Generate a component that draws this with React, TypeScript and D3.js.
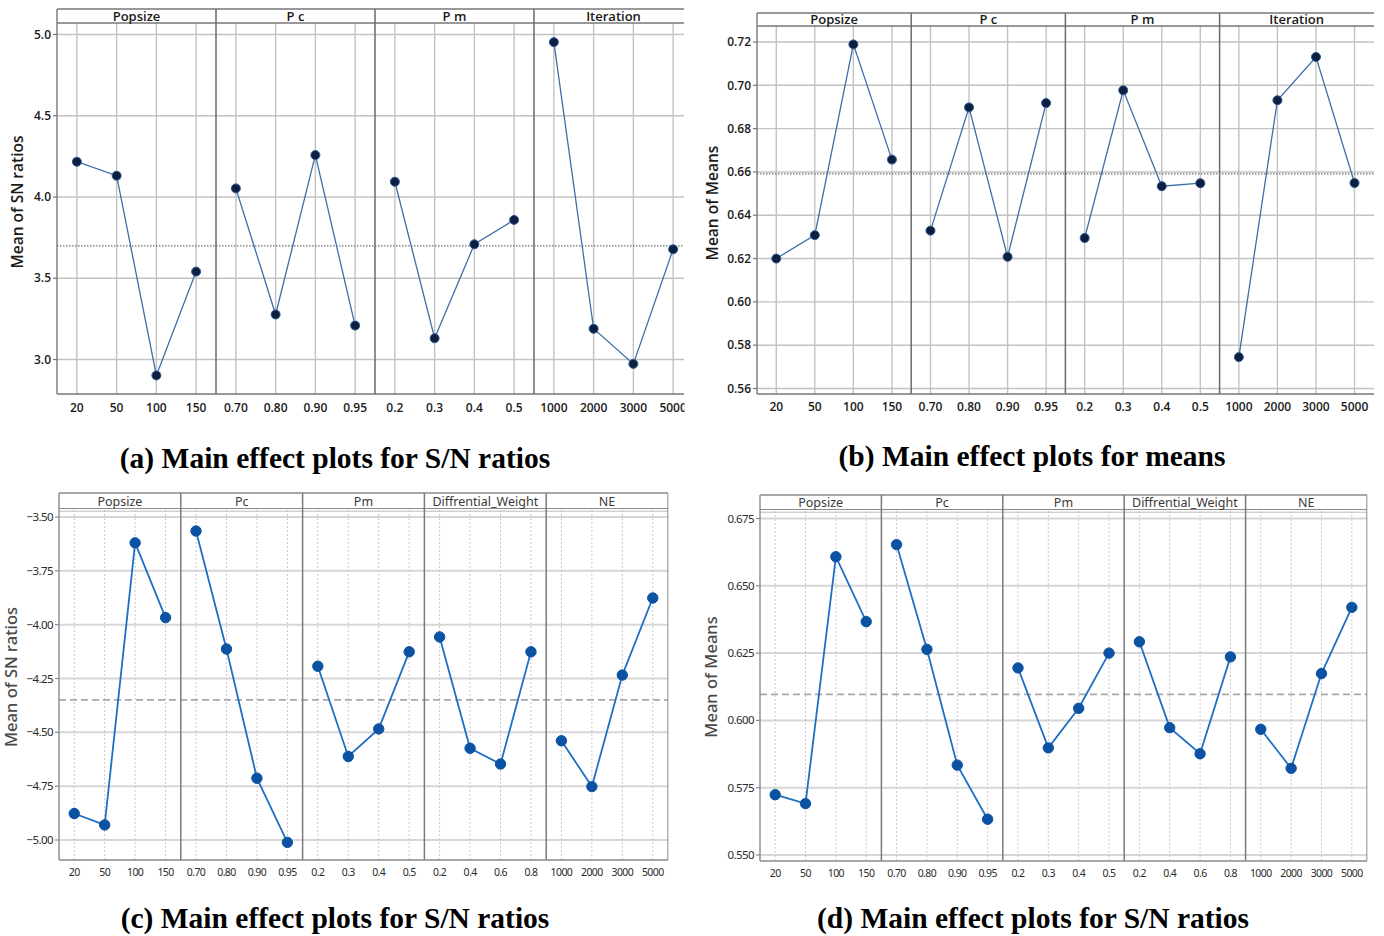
import React from "react";
import * as d3 from "d3";

// ---------- DATA ----------
const factorsA = ["Popsize", "P c", "P m", "Iteration"];
const levelsA = [
  ["20", "50", "100", "150"],
  ["0.70", "0.80", "0.90", "0.95"],
  ["0.2", "0.3", "0.4", "0.5"],
  ["1000", "2000", "3000", "5000"],
];
const snA = [
  [4.217, 4.131, 2.902, 3.541],
  [4.053, 3.277, 4.258, 3.209],
  [4.094, 3.131, 3.709, 3.859],
  [4.953, 3.189, 2.973, 3.678],
];
const meanA = 3.699;
const ticksA = [3.0, 3.5, 4.0, 4.5, 5.0];

const factorsB = ["Popsize", "P c", "P m", "Iteration"];
const levelsB = levelsA;
const meansB = [
  [0.62, 0.6308, 0.7189, 0.6657],
  [0.6329, 0.6898, 0.6208, 0.6918],
  [0.6295, 0.6977, 0.6534, 0.6548],
  [0.5745, 0.6931, 0.7131, 0.6549],
];
const meanB = 0.6591;
const ticksB = [0.56, 0.58, 0.6, 0.62, 0.64, 0.66, 0.68, 0.7, 0.72];

const factorsC = ["Popsize", "Pc", "Pm", "Diffrential_Weight", "NE"];
const levelsC = [
  ["20", "50", "100", "150"],
  ["0.70", "0.80", "0.90", "0.95"],
  ["0.2", "0.3", "0.4", "0.5"],
  ["0.2", "0.4", "0.6", "0.8"],
  ["1000", "2000", "3000", "5000"],
];
const snC = [
  [-4.877, -4.93, -3.62, -3.967],
  [-3.565, -4.113, -4.713, -5.011],
  [-4.193, -4.612, -4.484, -4.126],
  [-4.057, -4.574, -4.647, -4.126],
  [-4.539, -4.752, -4.234, -3.876],
];
const meanC = -4.349;
const ticksC = [-5.0, -4.75, -4.5, -4.25, -4.0, -3.75, -3.5];

const factorsD = factorsC;
const levelsD = levelsC;
const meansD = [
  [0.5724, 0.5691, 0.6608, 0.6367],
  [0.6653, 0.6264, 0.5834, 0.5633],
  [0.6195, 0.5898, 0.6045, 0.625],
  [0.6292, 0.5973, 0.5876, 0.6236],
  [0.5967, 0.5822, 0.6174, 0.642],
];
const meanD = 0.6097;
const ticksD = [0.55, 0.575, 0.6, 0.625, 0.65, 0.675];

const captions = [
  "(a) Main effect plots for S/N ratios",
  "(b) Main effect plots for means",
  "(c) Main effect plots for S/N ratios",
  "(d) Main effect plots for S/N ratios",
];

// ---------- STYLES ----------
const minitab = {
  frame: "#777",
  sep: "#6a6a6a",
  grid: "#c2c2c2",
  gridW: 1.4,
  vDash: "none",
  vGrid: "#c2c2c2",
  mean: "#6f6f6f",
  meanDash: "1.5,1.5",
  meanW: 1.1,
  line: "#3d6fa8",
  lineW: 1.3,
  pt: "#0d1f40",
  ptStroke: "#2d5a94",
  r: 4.5,
  font: "'Open Sans', 'Noto Sans', sans-serif",
  tickSize: 12,
  tickWeight: 600,
  tickFill: "#1a1a1a",
  tickSpacing: 0,
  stripSize: 13,
  stripWeight: 600,
  stripFill: "#1a1a1a",
  labelSize: 15.5,
  labelFill: "#1a1a1a",
  labelWeight: 600,
  doubleStrip: false,
};
const soft = {
  frame: "#8a8a8a",
  sep: "#7a7a7a",
  grid: "#d6d6d6",
  gridW: 2,
  vDash: "2,2",
  vGrid: "#c8c8c8",
  mean: "#a9a9a9",
  meanDash: "7,4",
  meanW: 1.8,
  line: "#1f6fc5",
  lineW: 1.8,
  pt: "#0b52a3",
  ptStroke: "#0b52a3",
  r: 5.2,
  font: "'Noto Sans', 'Open Sans', sans-serif",
  tickSize: 11.5,
  tickWeight: 400,
  tickFill: "#2a2a2a",
  tickSpacing: -0.6,
  stripSize: 12.5,
  stripWeight: 400,
  stripFill: "#3a3a3a",
  labelSize: 16.5,
  labelFill: "#4a4a4a",
  labelWeight: 500,
  doubleStrip: true,
};

type ChartProps = {
  id: string;
  factors: string[];
  levels: string[][];
  values: number[][];
  mean: number;
  ticks: number[];
  fmt: string;
  left: number;
  panelW: number;
  right: number;
  stripTop: number;
  stripBottom: number;
  plotBottom: number;
  yRef: [number, number, number, number];
  yLabel: string;
  yLabelX: number;
  yLabelY: number;
  xLabelY: number;
  xTickSize?: number;
  st: typeof minitab;
};

function FacetChart(p: ChartProps) {
  const st = p.st;
  const y = d3
    .scaleLinear()
    .domain([p.yRef[0], p.yRef[2]])
    .range([p.yRef[1], p.yRef[3]]);
  const f = d3.format(p.fmt);
  const line = d3.line<[number, number]>().x((d) => d[0]).y((d) => d[1]);
  const panels = p.factors.map((name, i) => {
    const x0 = p.left + i * p.panelW;
    const x1 = x0 + p.panelW;
    const xs = d3.scalePoint<string>().domain(p.levels[i]).range([x0, x1]).padding(0.5);
    return { name, i, x0, x1, xs };
  });
  return (
    <g>
      <defs>
        <clipPath id={p.id + "clip"}>
          <rect x={0} y={0} width={p.right + 0.5} height={936} />
        </clipPath>
      </defs>
      <g clipPath={`url(#${p.id}clip)`}>
        {p.ticks.map((t) => (
          <line key={"h" + t} x1={p.left} x2={p.right} y1={y(t)} y2={y(t)} stroke={st.grid} strokeWidth={st.gridW} />
        ))}
        {panels.map((pn) =>
          p.levels[pn.i].map((lv) => (
            <line
              key={"v" + pn.i + lv}
              x1={pn.xs(lv)}
              x2={pn.xs(lv)}
              y1={p.stripBottom}
              y2={p.plotBottom}
              stroke={st.vGrid}
              strokeWidth={st.doubleStrip ? 1 : 1.4}
              strokeDasharray={st.vDash}
            />
          ))
        )}
        <line x1={p.left} x2={p.right} y1={y(p.mean)} y2={y(p.mean)} stroke={st.mean} strokeWidth={st.meanW} strokeDasharray={st.meanDash} />
        <line x1={p.left} x2={p.right} y1={p.stripTop} y2={p.stripTop} stroke={st.frame} strokeWidth={1.4} />
        {st.doubleStrip ? (
          <g>
            <line x1={p.left} x2={p.right} y1={p.stripBottom - 1.5} y2={p.stripBottom - 1.5} stroke={st.frame} strokeWidth={1} />
            <line x1={p.left} x2={p.right} y1={p.stripBottom + 1.2} y2={p.stripBottom + 1.2} stroke={"#bbb"} strokeWidth={1} />
          </g>
        ) : (
          <line x1={p.left} x2={p.right} y1={p.stripBottom} y2={p.stripBottom} stroke={st.frame} strokeWidth={1.4} />
        )}
        {panels.map((pn) => (
          <text
            key={"s" + pn.i}
            x={(pn.x0 + pn.x1) / 2}
            y={p.stripBottom - (st.doubleStrip ? 4 : 2.5)}
            textAnchor="middle"
            fontFamily={st.font}
            fontSize={st.stripSize}
            fontWeight={st.stripWeight}
            fill={st.stripFill}
          >
            {pn.name}
          </text>
        ))}
        {panels.slice(1).map((pn) => (
          <line key={"sep" + pn.i} x1={pn.x0} x2={pn.x0} y1={p.stripTop} y2={p.plotBottom} stroke={st.sep} strokeWidth={1.5} />
        ))}
        {st.doubleStrip && (
          <line x1={p.right} x2={p.right} y1={p.stripTop} y2={p.plotBottom} stroke={st.frame} strokeWidth={1.3} />
        )}
        <line x1={p.left} x2={p.left} y1={p.stripTop} y2={p.plotBottom} stroke={st.frame} strokeWidth={1.4} />
        <line x1={p.left} x2={p.right} y1={p.plotBottom} y2={p.plotBottom} stroke={st.frame} strokeWidth={1.4} />
        {panels.map((pn) => {
          const pts: [number, number][] = p.levels[pn.i].map((lv, j) => [pn.xs(lv) as number, y(p.values[pn.i][j])]);
          return (
            <g key={"d" + pn.i}>
              <path d={line(pts) || ""} fill="none" stroke={st.line} strokeWidth={st.lineW} />
              {pts.map((pt, j) => (
                <circle key={j} cx={pt[0]} cy={pt[1]} r={st.r} fill={st.pt} stroke={st.ptStroke} strokeWidth={1} />
              ))}
            </g>
          );
        })}
        {panels.map((pn) =>
          p.levels[pn.i].map((lv) => (
            <text
              key={"xt" + pn.i + lv}
              x={pn.xs(lv)}
              y={p.xLabelY}
              textAnchor="middle"
              fontFamily={st.font}
              fontSize={p.xTickSize ?? st.tickSize}
              fontWeight={st.tickWeight}
              fill={st.tickFill}
              letterSpacing={st.tickSpacing}
            >
              {lv}
            </text>
          ))
        )}
      </g>
      {p.ticks.map((t) => (
        <g key={"yt" + t}>
          <line x1={p.left - 4} x2={p.left} y1={y(t)} y2={y(t)} stroke={st.frame} strokeWidth={1.2} />
          <text
            x={p.left - 6}
            y={y(t)}
            dy="0.35em"
            textAnchor="end"
            fontFamily={st.font}
            fontSize={st.tickSize}
            fontWeight={st.tickWeight}
            fill={st.tickFill}
            letterSpacing={st.tickSpacing}
          >
            {f(t)}
          </text>
        </g>
      ))}
      <text
        transform={`translate(${p.yLabelX},${p.yLabelY}) rotate(-90)`}
        textAnchor="middle"
        dy="0.35em"
        fontFamily={st.font}
        fontSize={st.labelSize}
        fontWeight={st.labelWeight}
        fill={st.labelFill}
      >
        {p.yLabel}
      </text>
    </g>
  );
}

export default function App() {
  const capStyle = {
    fontFamily: "'Liberation Serif', 'Times New Roman', serif",
    fontWeight: 700,
    fontSize: 29.5,
  };
  return (
    <div style={{ position: "absolute", left: 0, top: 0 }}>
      <svg width={1384} height={936} style={{ display: "block", background: "#fff" }}>
        <FacetChart
          id="a"
          factors={factorsA}
          levels={levelsA}
          values={snA}
          mean={meanA}
          ticks={ticksA}
          fmt=".1f"
          left={57}
          panelW={159}
          right={684}
          stripTop={9}
          stripBottom={23}
          plotBottom={394}
          yRef={[5.0, 34.5, 3.0, 359.5]}
          yLabel="Mean of SN ratios"
          yLabelX={18}
          yLabelY={202}
          xLabelY={412}
          st={minitab}
        />
        <FacetChart
          id="b"
          factors={factorsB}
          levels={levelsB}
          values={meansB}
          mean={meanB}
          ticks={ticksB}
          fmt=".2f"
          left={757}
          panelW={154.2}
          right={1374}
          stripTop={13}
          stripBottom={26}
          plotBottom={394}
          yRef={[0.72, 42, 0.56, 388.5]}
          yLabel="Mean of Means"
          yLabelX={713}
          yLabelY={203}
          xLabelY={411}
          st={minitab}
        />
        <FacetChart
          id="c"
          factors={factorsC}
          levels={levelsC}
          values={snC}
          mean={meanC}
          ticks={ticksC}
          fmt=".2f"
          left={59}
          panelW={121.8}
          right={668}
          stripTop={493}
          stripBottom={510}
          plotBottom={860}
          yRef={[-3.5, 517, -5.0, 840]}
          yLabel="Mean of SN ratios"
          yLabelX={11}
          yLabelY={677}
          xLabelY={876}
          xTickSize={10.5}
          st={soft}
        />
        <FacetChart
          id="d"
          factors={factorsD}
          levels={levelsD}
          values={meansD}
          mean={meanD}
          ticks={ticksD}
          fmt=".3f"
          left={760}
          panelW={121.4}
          right={1367}
          stripTop={495}
          stripBottom={511}
          plotBottom={861}
          yRef={[0.675, 518.5, 0.55, 855]}
          yLabel="Mean of Means"
          yLabelX={711}
          yLabelY={677}
          xLabelY={877}
          xTickSize={10.5}
          st={soft}
        />
        <text x={335} y={468} textAnchor="middle" {...capStyle}>{captions[0]}</text>
        <text x={1032} y={466} textAnchor="middle" {...capStyle}>{captions[1]}</text>
        <text x={335} y={928} textAnchor="middle" {...capStyle}>{captions[2]}</text>
        <text x={1033} y={928} textAnchor="middle" {...capStyle}>{captions[3]}</text>
      </svg>
    </div>
  );
}
